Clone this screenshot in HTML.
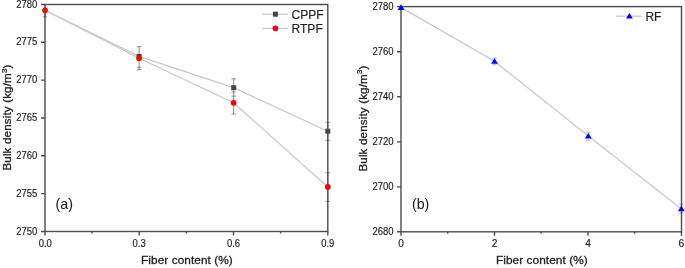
<!DOCTYPE html>
<html><head><meta charset="utf-8"><style>
html,body{margin:0;padding:0;background:#fff;width:685px;height:268px;overflow:hidden}
svg{display:block;will-change:transform}
text{font-family:"Liberation Sans",sans-serif;fill:#222;stroke:#222;stroke-width:0.15}
.tk{font-size:10.2px;stroke-width:0.35}
.ti{font-size:11.8px;stroke-width:0.3}
.yt{font-size:11.6px;stroke-width:0.3}
.lg{font-size:12px}
.pl{font-size:14.2px;stroke-width:0.05}
.ax{stroke:#4c4c4c;stroke-width:1.4;fill:none}
.dl{stroke:#c8c8c8;stroke-width:1.25;fill:none}
.eb{stroke:#808080;stroke-width:0.9;fill:none}
</style></head><body>
<svg width="685" height="268" viewBox="0 0 685 268">
<!-- ========== LEFT CHART (a) ========== -->
<!-- data lines -->
<polyline class="dl" points="45,10.3 139.1,56.4 233.6,87.7 327.8,131.2"/>
<polyline class="dl" points="45,10.3 139.1,58.3 233.6,102.8 327.8,187"/>
<!-- error bars -->
<g class="eb">
<path d="M45,4.5V16.9M43,16.9H47"/>
<path d="M139.1,46.7V69.7M136.9,46.7H141.3M136.9,67.3H141.3M136.9,69.7H141.3"/>
<path d="M233.7,78.8V114M231.5,78.8H235.9M231.5,92H235.9M231.5,96.1H235.9M231.5,114H235.9"/>
<path d="M327.8,122.3V140.4M325.6,122.3H330M325.6,140.4H330"/>
<path d="M327.8,172.7V201.4M325.6,172.7H330M325.6,201.4H330"/>
</g>
<!-- axes frame -->
<rect class="ax" x="45" y="4.5" width="282.8" height="227"/>
<!-- y ticks -->
<path class="ax" d="M41,4.5H45M41,42.3H45M41,80.1H45M41,118H45M41,155.8H45M41,193.6H45M41,231.5H45"/>
<!-- x ticks -->
<path class="ax" d="M45,231.5V235.5M139.2,231.5V235.5M233.5,231.5V235.5M327.8,231.5V235.5M92.1,231.5V233.5M186.4,231.5V233.5M280.6,231.5V233.5"/>
<!-- markers CPPF -->
<g fill="#464646">
<rect x="136.6" y="53.9" width="5" height="5"/>
<rect x="231.2" y="85.2" width="5" height="5"/>
<rect x="325.3" y="128.7" width="5" height="5"/>
</g>
<!-- markers RTPF -->
<g fill="#ff0000">
<circle cx="45" cy="10.3" r="2.9"/>
<circle cx="139.1" cy="58.3" r="2.9"/>
<circle cx="233.6" cy="102.8" r="2.9"/>
<circle cx="327.8" cy="187" r="2.9"/>
</g>
<!-- y labels -->
<g class="tk" text-anchor="end">
<text x="37.3" y="7.5" textLength="21.1" lengthAdjust="spacingAndGlyphs">2780</text>
<text x="37.3" y="45.3" textLength="21.1" lengthAdjust="spacingAndGlyphs">2775</text>
<text x="37.3" y="83.1" textLength="21.1" lengthAdjust="spacingAndGlyphs">2770</text>
<text x="37.3" y="121.0" textLength="21.1" lengthAdjust="spacingAndGlyphs">2765</text>
<text x="37.3" y="158.8" textLength="21.1" lengthAdjust="spacingAndGlyphs">2760</text>
<text x="37.3" y="196.6" textLength="21.1" lengthAdjust="spacingAndGlyphs">2755</text>
<text x="37.3" y="234.5" textLength="21.1" lengthAdjust="spacingAndGlyphs">2750</text>
</g>
<!-- x labels -->
<g class="tk" text-anchor="middle">
<text x="45.3" y="246.5" textLength="13.2" lengthAdjust="spacingAndGlyphs">0.0</text>
<text x="139.2" y="246.5" textLength="13.2" lengthAdjust="spacingAndGlyphs">0.3</text>
<text x="233.5" y="246.5" textLength="13.2" lengthAdjust="spacingAndGlyphs">0.6</text>
<text x="327.8" y="246.5" textLength="13.2" lengthAdjust="spacingAndGlyphs">0.9</text>
</g>
<text class="ti" x="186.9" y="264.4" text-anchor="middle" textLength="91.8" lengthAdjust="spacing">Fiber content (%)</text>
<text class="yt" transform="translate(11,117.6) rotate(-90)" text-anchor="middle" textLength="106" lengthAdjust="spacing">Bulk density (kg/m<tspan font-size="8" dy="-4.3">3</tspan><tspan dy="4.3">)</tspan></text>
<text class="pl" x="55.6" y="208.9">(a)</text>
<!-- legend -->
<line class="dl" x1="262" y1="14.2" x2="288" y2="14.2"/>
<rect x="272.9" y="11.7" width="5" height="5" fill="#464646"/>
<text class="lg" x="291.6" y="18.9">CPPF</text>
<line class="dl" x1="262" y1="28.4" x2="288" y2="28.4"/>
<circle cx="275.4" cy="28.4" r="2.8" fill="#ff0000"/>
<text class="lg" x="291.6" y="33.2">RTPF</text>

<!-- ========== RIGHT CHART (b) ========== -->
<polyline class="dl" points="401,7.4 494.5,61.3 588.3,136 681.4,209"/>
<g class="eb" style="stroke:#b0b0b0">
<path d="M492.3,58.1H496.7M492.3,64.8H496.7M586.1,132.3H590.5M586.1,140.3H590.5M679.2,204.3H683.6M679.2,213.2H683.6M681.4,204.3V213.2"/>
</g>
<rect class="ax" x="401" y="6.6" width="280.5" height="225.2"/>
<path class="ax" d="M397,6.6H401M397,51.7H401M397,96.8H401M397,141.9H401M397,186.9H401M397,231.8H401"/>
<path class="ax" d="M401,231.8V235.8M494.5,231.8V235.8M588,231.8V235.8M681.5,231.8V235.8M447.7,231.8V233.8M541.1,231.8V233.8M634.6,231.8V233.8"/>
<g fill="#0000ff">
<path d="M401,4.3L404.4,10.1H397.6Z"/>
<path d="M494.5,58L497.9,63.8H491.1Z"/>
<path d="M588.3,132.8L591.7,138.6H584.9Z"/>
<path d="M681.4,205.4L684.8,211.2H678Z"/>
</g>
<g class="tk" text-anchor="end">
<text x="393.5" y="10.0" textLength="21.1" lengthAdjust="spacingAndGlyphs">2780</text>
<text x="393.5" y="55.1" textLength="21.1" lengthAdjust="spacingAndGlyphs">2760</text>
<text x="393.5" y="100.2" textLength="21.1" lengthAdjust="spacingAndGlyphs">2740</text>
<text x="393.5" y="145.3" textLength="21.1" lengthAdjust="spacingAndGlyphs">2720</text>
<text x="393.5" y="190.3" textLength="21.1" lengthAdjust="spacingAndGlyphs">2700</text>
<text x="393.5" y="235.2" textLength="21.1" lengthAdjust="spacingAndGlyphs">2680</text>
</g>
<g class="tk" text-anchor="middle">
<text x="401" y="246.8">0</text>
<text x="494.5" y="246.8">2</text>
<text x="588" y="246.8">4</text>
<text x="681.3" y="246.8">6</text>
</g>
<text class="ti" x="541.8" y="264.4" text-anchor="middle" textLength="91.8" lengthAdjust="spacing">Fiber content (%)</text>
<text class="yt" transform="translate(366.6,118.6) rotate(-90)" text-anchor="middle" textLength="106" lengthAdjust="spacing">Bulk density (kg/m<tspan font-size="8" dy="-4.3">3</tspan><tspan dy="4.3">)</tspan></text>
<text class="pl" x="412" y="208.9">(b)</text>
<line class="dl" x1="616.1" y1="16.2" x2="642.5" y2="16.2"/>
<path d="M629.4,12.9L632.8,18.6H626Z" fill="#0000ff"/>
<text class="lg" x="645.4" y="21">RF</text>
</svg>
</body></html>
